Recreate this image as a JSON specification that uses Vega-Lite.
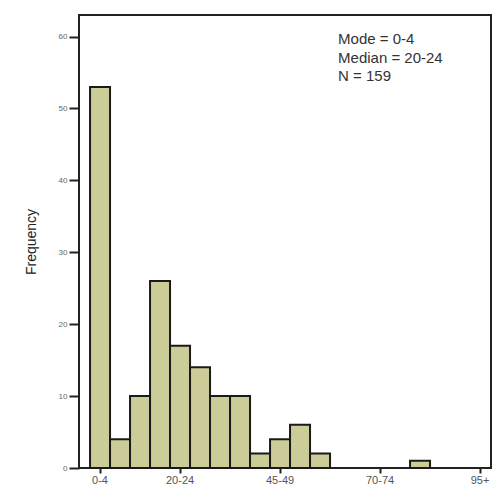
{
  "$schema": "https://vega.github.io/schema/vega-lite/v6.json",
  "width": 412,
  "height": 453,
  "autosize": {"type": "none"},
  "padding": {"left": 79, "top": 15, "right": 4, "bottom": 27},
  "background": "white",
  "config": {
    "view": {"stroke": "#222222", "strokeWidth": 2},
    "font": "Liberation Sans"
  },
  "datasets": {
    "bins": [
      {"age": "0-4", "count": 53},
      {"age": "5-9", "count": 4},
      {"age": "10-14", "count": 10},
      {"age": "15-19", "count": 26},
      {"age": "20-24", "count": 17},
      {"age": "25-29", "count": 14},
      {"age": "30-34", "count": 10},
      {"age": "35-39", "count": 10},
      {"age": "40-44", "count": 2},
      {"age": "45-49", "count": 4},
      {"age": "50-54", "count": 6},
      {"age": "55-59", "count": 2},
      {"age": "80-84", "count": 1}
    ],
    "notes": [
      {"age": "60-64", "y": 59.6, "label": "Mode = 0-4"},
      {"age": "60-64", "y": 57.0, "label": "Median = 20-24"},
      {"age": "60-64", "y": 54.5, "label": "N = 159"}
    ]
  },
  "layer": [
    {
      "data": {"name": "bins"},
      "mark": {"type": "bar", "fill": "#cccc99", "stroke": "#1a1a1a", "strokeWidth": 2},
      "encoding": {
        "x": {
          "field": "age",
          "type": "ordinal",
          "sort": null,
          "scale": {
            "domain": ["0-4","5-9","10-14","15-19","20-24","25-29","30-34","35-39","40-44","45-49","50-54","55-59","60-64","65-69","70-74","75-79","80-84","85-89","90-94","95+"],
            "paddingInner": 0,
            "paddingOuter": 0.3,
            "align": 0.92
          },
          "axis": {
            "title": null,
            "values": ["0-4","20-24","45-49","70-74","95+"],
            "labelAngle": 0,
            "labelFontSize": 11,
            "labelColor": "#555555",
            "labelPadding": 1,
            "tickColor": "#222222",
            "tickSize": 5,
            "tickWidth": 2,
            "domain": false,
            "grid": false
          }
        },
        "y": {
          "field": "count",
          "type": "quantitative",
          "scale": {"domain": [0, 63], "nice": false},
          "axis": {
            "title": "Frequency",
            "titleFontSize": 14,
            "titleFontWeight": "normal",
            "titleColor": "#222222",
            "titlePadding": 20,
            "values": [0, 10, 20, 30, 40, 50, 60],
            "labelFontSize": 8,
            "labelColor": "#666666",
            "labelPadding": 2,
            "tickColor": "#222222",
            "tickSize": 10,
            "tickWidth": 2,
            "domain": false,
            "grid": false
          }
        }
      }
    },
    {
      "data": {"name": "notes"},
      "mark": {"type": "text", "align": "left", "baseline": "middle", "fontSize": 15, "color": "#333333", "dx": 8},
      "encoding": {
        "x": {"field": "age", "type": "ordinal", "bandPosition": 0},
        "y": {"field": "y", "type": "quantitative"},
        "text": {"field": "label"}
      }
    }
  ]
}
